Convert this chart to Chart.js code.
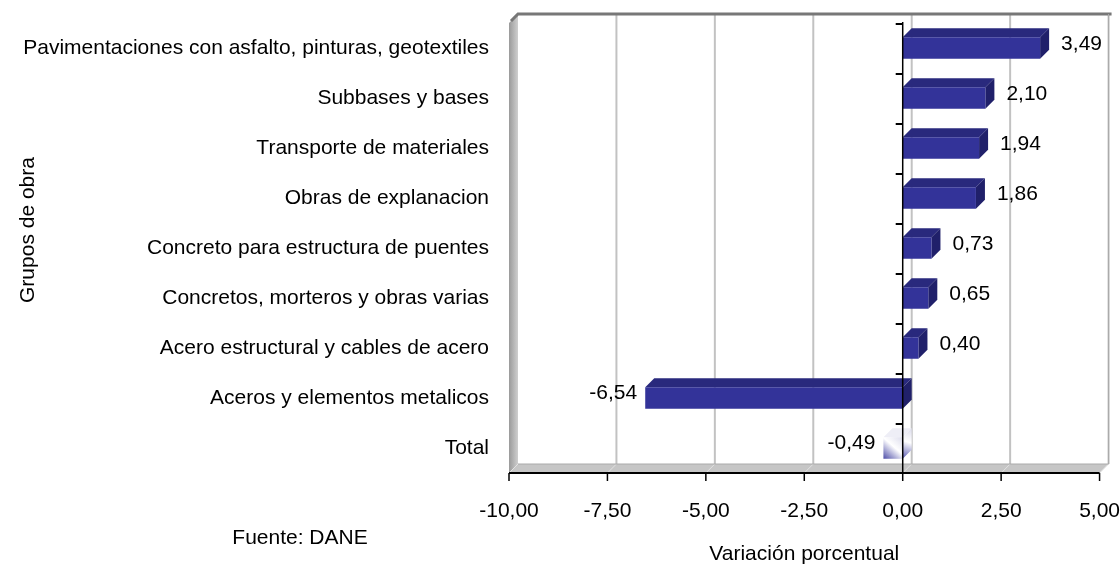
<!DOCTYPE html>
<html>
<head>
<meta charset="utf-8">
<script src="https://cdn.jsdelivr.net/npm/chart.js@4.4.7/dist/chart.umd.min.js"></script>
<style>
  html, body { margin: 0; padding: 0; background: #fff; }
  #wrap { width: 1120px; height: 567px; position: relative; }
</style>
</head>
<body>
<div id="wrap"><canvas id="chart" width="1120" height="567"></canvas></div>
<script>
// Variación porcentual por grupos de obra
const categories = [
  "Pavimentaciones con asfalto, pinturas, geotextiles",
  "Subbases y bases",
  "Transporte de materiales",
  "Obras de explanacion",
  "Concreto para estructura de puentes",
  "Concretos, morteros y obras varias",
  "Acero estructural y cables de acero",
  "Aceros y elementos metalicos",
  "Total",
];
const variation = [3.49, 2.10, 1.94, 1.86, 0.73, 0.65, 0.40, -6.54, -0.49];
const xTicks = [-10, -7.5, -5, -2.5, 0, 2.5, 5];

const FONT = "'Liberation Sans', Arial, sans-serif";
const DEPTH = 9;
const fmt = (v) => v.toFixed(2).replace(".", ",");
const isTotal = (i) => categories[i] === "Total";

// the "Total" bar is drawn washed out (white with blue shading), like the original
function totalFill(ctx, l, r, t, b, from) {
  const g = ctx.createLinearGradient(l, b, r, t);
  g.addColorStop(0, from);
  g.addColorStop(0.55, "#ffffff");
  g.addColorStop(1, "#dcdcec");
  return g;
}

function faceColor(c) {
  if (!isTotal(c.dataIndex)) return "#333399";
  const { x, y } = c.chart.scales;
  if (!x || !y) return "#e4e6f2";
  const l = x.getPixelForValue(variation[c.dataIndex]);
  const r = x.getPixelForValue(0);
  const yc = y.getPixelForValue(c.dataIndex);
  return totalFill(c.chart.ctx, l, r, yc - 11, yc + 11, "#4a4aa6");
}
const topColor = (i) => (isTotal(i) ? "#eeeef6" : "#29297d");
const endColor = (i) => (isTotal(i) ? null : "#20206a");

function poly(ctx, pts, fill) {
  ctx.beginPath();
  ctx.moveTo(pts[0][0], pts[0][1]);
  pts.slice(1).forEach(([x, y]) => ctx.lineTo(x, y));
  ctx.closePath();
  ctx.fillStyle = fill;
  ctx.fill();
}

const wallsPlugin = {
  id: "walls",
  beforeDatasetsDraw(chart) {
    const { ctx, chartArea: a, scales } = chart;
    const d = DEPTH;
    ctx.save();
    // back wall
    ctx.fillStyle = "#fff";
    ctx.fillRect(a.left + d, a.top - d, a.right - a.left, a.bottom - a.top);
    // side wall
    const side = ctx.createLinearGradient(a.left, 0, a.left + d, 0);
    side.addColorStop(0, "#9a9a9a");
    side.addColorStop(1, "#cfcfcf");
    poly(ctx, [[a.left, a.top], [a.left + d, a.top - d], [a.left + d, a.bottom - d], [a.left, a.bottom]], side);
    // floor
    poly(ctx, [[a.left, a.bottom], [a.left + d, a.bottom - d], [a.right + d, a.bottom - d], [a.right, a.bottom]], "#c6c6c6");
    // grid lines on back wall and floor
    xTicks.forEach((v) => {
      const x = scales.x.getPixelForValue(v);
      if (v > xTicks[0]) {
        ctx.strokeStyle = "#c2c2c2";
        ctx.lineWidth = 2;
        ctx.beginPath();
        ctx.moveTo(x + d, a.top - d);
        ctx.lineTo(x + d, a.bottom - d);
        ctx.stroke();
      }
      ctx.strokeStyle = "#e2e2e2";
      ctx.lineWidth = 1;
      ctx.beginPath();
      ctx.moveTo(x, a.bottom);
      ctx.lineTo(x + d, a.bottom - d);
      ctx.stroke();
    });
    // wall borders
    ctx.strokeStyle = "#777";
    ctx.lineWidth = 3;
    ctx.beginPath();
    ctx.moveTo(a.left + 2, a.top - 2);
    ctx.lineTo(a.left + d, a.top - d);
    ctx.lineTo(a.right + d + 3, a.top - d);
    ctx.stroke();
    ctx.strokeStyle = "#aaa";
    ctx.lineWidth = 1;
    ctx.beginPath();
    ctx.moveTo(a.left + d, a.bottom - d);
    ctx.lineTo(a.right + d, a.bottom - d);
    ctx.moveTo(a.right + d, a.top - d);
    ctx.lineTo(a.right + d, a.bottom - d);
    ctx.stroke();

    // 3D faces of the bars
    const meta = chart.getDatasetMeta(0);
    meta.data.forEach((el, i) => {
      const { x, y, base, height } = el.getProps(["x", "y", "base", "height"], true);
      const l = Math.min(x, base), r = Math.max(x, base);
      const t = y - height / 2, b = y + height / 2;
      poly(ctx, [[l, t], [l + d, t - d], [r + d, t - d], [r, t]], topColor(i));
      const end = endColor(i) || totalFill(ctx, r, r + d, t - d, b, "#5a5ab2");
      poly(ctx, [[r, t], [r + d, t - d], [r + d, b - d], [r, b]], end);
    });
    ctx.restore();
  },
  afterDatasetsDraw(chart) {
    const { ctx, chartArea: a, scales } = chart;
    const x0 = scales.x.getPixelForValue(0);
    ctx.save();
    // zero axis with tick dashes
    ctx.strokeStyle = "#000";
    ctx.lineWidth = 1.5;
    ctx.beginPath();
    ctx.moveTo(x0, a.top - 1);
    ctx.lineTo(x0, a.bottom);
    ctx.stroke();
    ctx.lineWidth = 2;
    const step = (a.bottom - a.top) / categories.length;
    for (let k = 0; k < categories.length; k++) {
      const yy = a.top + step * k + 1;
      ctx.beginPath();
      ctx.moveTo(x0 - 7, yy);
      ctx.lineTo(x0, yy);
      ctx.stroke();
    }
    // category axis line and tick marks
    ctx.lineWidth = 2;
    ctx.beginPath();
    ctx.moveTo(a.left, a.bottom);
    ctx.lineTo(a.right, a.bottom);
    ctx.stroke();
    ctx.lineWidth = 1.5;
    xTicks.forEach((v) => {
      const x = scales.x.getPixelForValue(v);
      ctx.beginPath();
      ctx.moveTo(x, a.bottom);
      ctx.lineTo(x, a.bottom + 8);
      ctx.stroke();
    });

    // value labels
    ctx.font = `21px ${FONT}`;
    ctx.fillStyle = "#000";
    ctx.textBaseline = "middle";
    chart.getDatasetMeta(0).data.forEach((el, i) => {
      const v = variation[i];
      if (v >= 0) {
        ctx.textAlign = "left";
        ctx.fillText(fmt(v), el.x + DEPTH + 12, el.y - 4);
      } else {
        ctx.textAlign = "right";
        ctx.fillText(fmt(v), el.x - 8, el.y - 5);
      }
    });

    // side texts
    ctx.textAlign = "center";
    ctx.fillText("Fuente: DANE", 300, 538);
    ctx.translate(28, 230);
    ctx.rotate(-Math.PI / 2);
    ctx.fillText("Grupos de obra", 0, 0);
    ctx.restore();
  },
};

new Chart(document.getElementById("chart"), {
  type: "bar",
  data: {
    labels: categories,
    datasets: [
      {
        data: variation,
        backgroundColor: faceColor,
        borderWidth: 0,
        barPercentage: 0.7,
        categoryPercentage: 0.62,
      },
    ],
  },
  options: {
    indexAxis: "y",
    responsive: false,
    animation: false,
    devicePixelRatio: 1,
    layout: { padding: { top: 23, right: 0, left: 0, bottom: 0 } },
    plugins: { legend: { display: false }, tooltip: { enabled: false } },
    scales: {
      x: {
        min: -10,
        max: 5,
        afterBuildTicks: (scale) => {
          scale.ticks = xTicks.map((value) => ({ value }));
        },
        afterFit: (scale) => {
          scale.height = 94;
        },
        grid: { display: false, drawTicks: true, tickLength: 26 },
        border: { display: false },
        ticks: {
          color: "#000",
          padding: 0,
          font: { family: FONT, size: 21 },
          maxRotation: 0,
          callback: (v) => fmt(v),
        },
        title: {
          display: true,
          text: "Variación porcentual",
          color: "#000",
          font: { family: FONT, size: 21 },
          padding: { top: 0, bottom: 0 },
        },
      },
      y: {
        afterFit: (scale) => {
          scale.width = 509;
        },
        grid: { display: false, drawTicks: true, tickLength: 20 },
        border: { display: false },
        ticks: {
          color: "#000",
          padding: 0,
          font: { family: FONT, size: 21 },
        },
      },
    },
  },
  plugins: [wallsPlugin],
});
</script>
</body>
</html>
